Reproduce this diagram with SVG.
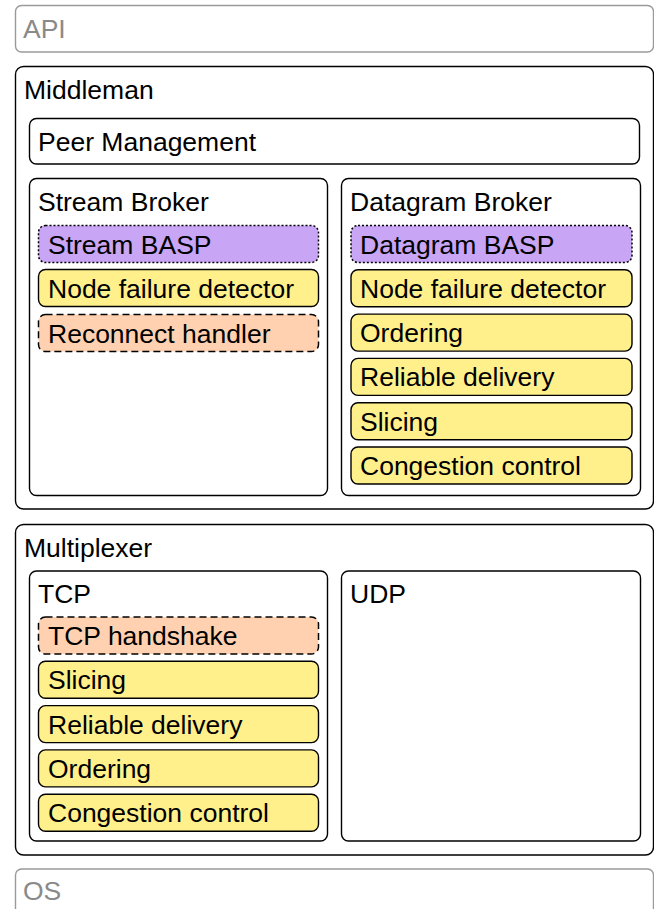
<svg xmlns="http://www.w3.org/2000/svg" width="654" height="909" viewBox="0 0 654 909">
<style>
text{font-family:"Liberation Sans",Arial,sans-serif;font-size:26.5px;fill:#000}
.g{fill:#8a8a8a}
.outer{fill:#fff;stroke:#000;stroke-width:1.4}
.ghost{fill:#fff;stroke:#9a9a9a;stroke-width:1.4}
.box{fill:#fff;stroke:#000;stroke-width:1.4}
.y{fill:#fff08c;stroke:#000;stroke-width:1.4}
.p{fill:#c9a5f5;stroke:#000;stroke-width:1.5;stroke-dasharray:2 2}
.o{fill:#ffd1b0;stroke:#000;stroke-width:1.5;stroke-dasharray:7 4}
</style>
<rect width="654" height="909" fill="#fff"/>
<g id="api"><rect class="ghost" x="15.5" y="5.5" width="638" height="46.5" rx="6"/><text class="g" x="23" y="38">API</text></g>
<g id="middleman"><rect class="outer" x="15.5" y="66.5" width="638" height="442.5" rx="8"/><text x="24" y="99">Middleman</text></g>
<g id="peer-management"><rect class="box" x="29.5" y="118.5" width="610" height="45.5" rx="7"/><text x="38" y="151">Peer Management</text></g>
<g id="stream-broker"><rect class="box" x="29.5" y="178.5" width="298" height="317" rx="7"/><text x="38" y="211">Stream Broker</text></g>
<g id="datagram-broker"><rect class="box" x="341.5" y="178.5" width="299" height="317" rx="7"/><text x="350" y="211">Datagram Broker</text></g>
<g id="stream-basp"><rect class="p" x="38.5" y="225.5" width="280" height="37" rx="7"/><text x="48" y="253.5">Stream BASP</text></g>
<g id="stream-nfd"><rect class="y" x="38.5" y="269.5" width="280" height="37" rx="7"/><text x="48" y="297.5">Node failure detector</text></g>
<g id="reconnect"><rect class="o" x="38.5" y="314.5" width="280" height="37" rx="7"/><text x="48" y="342.5">Reconnect handler</text></g>
<g id="datagram-basp"><rect class="p" x="351" y="225.5" width="281" height="37" rx="7"/><text x="360" y="253.5">Datagram BASP</text></g>
<g id="dg-nfd"><rect class="y" x="351" y="269.8" width="281" height="37" rx="7"/><text x="360" y="297.8">Node failure detector</text></g>
<g id="dg-ordering"><rect class="y" x="351" y="314.1" width="281" height="37" rx="7"/><text x="360" y="342.1">Ordering</text></g>
<g id="dg-reliable"><rect class="y" x="351" y="358.4" width="281" height="37" rx="7"/><text x="360" y="386.4">Reliable delivery</text></g>
<g id="dg-slicing"><rect class="y" x="351" y="402.7" width="281" height="37" rx="7"/><text x="360" y="430.7">Slicing</text></g>
<g id="dg-congestion"><rect class="y" x="351" y="447" width="281" height="37" rx="7"/><text x="360" y="475">Congestion control</text></g>
<g id="multiplexer"><rect class="outer" x="15.5" y="524.5" width="638" height="330.5" rx="8"/><text x="24" y="557">Multiplexer</text></g>
<g id="tcp"><rect class="box" x="29.5" y="571" width="298" height="270" rx="7"/><text x="38" y="603">TCP</text></g>
<g id="udp"><rect class="box" x="341.5" y="571" width="299" height="270" rx="7"/><text x="350" y="603">UDP</text></g>
<g id="tcp-handshake"><rect class="o" x="38.5" y="617" width="280" height="37" rx="7"/><text x="48" y="645">TCP handshake</text></g>
<g id="tcp-slicing"><rect class="y" x="38.5" y="661.3" width="280" height="37" rx="7"/><text x="48" y="689.3">Slicing</text></g>
<g id="tcp-reliable"><rect class="y" x="38.5" y="705.6" width="280" height="37" rx="7"/><text x="48" y="733.6">Reliable delivery</text></g>
<g id="tcp-ordering"><rect class="y" x="38.5" y="749.9" width="280" height="37" rx="7"/><text x="48" y="777.9">Ordering</text></g>
<g id="tcp-congestion"><rect class="y" x="38.5" y="794.2" width="280" height="37" rx="7"/><text x="48" y="822.2">Congestion control</text></g>
<g id="os"><rect class="ghost" x="15.5" y="869" width="638" height="60" rx="6"/><text class="g" x="23" y="900">OS</text></g>
<g id="connectors"/>
</svg>
